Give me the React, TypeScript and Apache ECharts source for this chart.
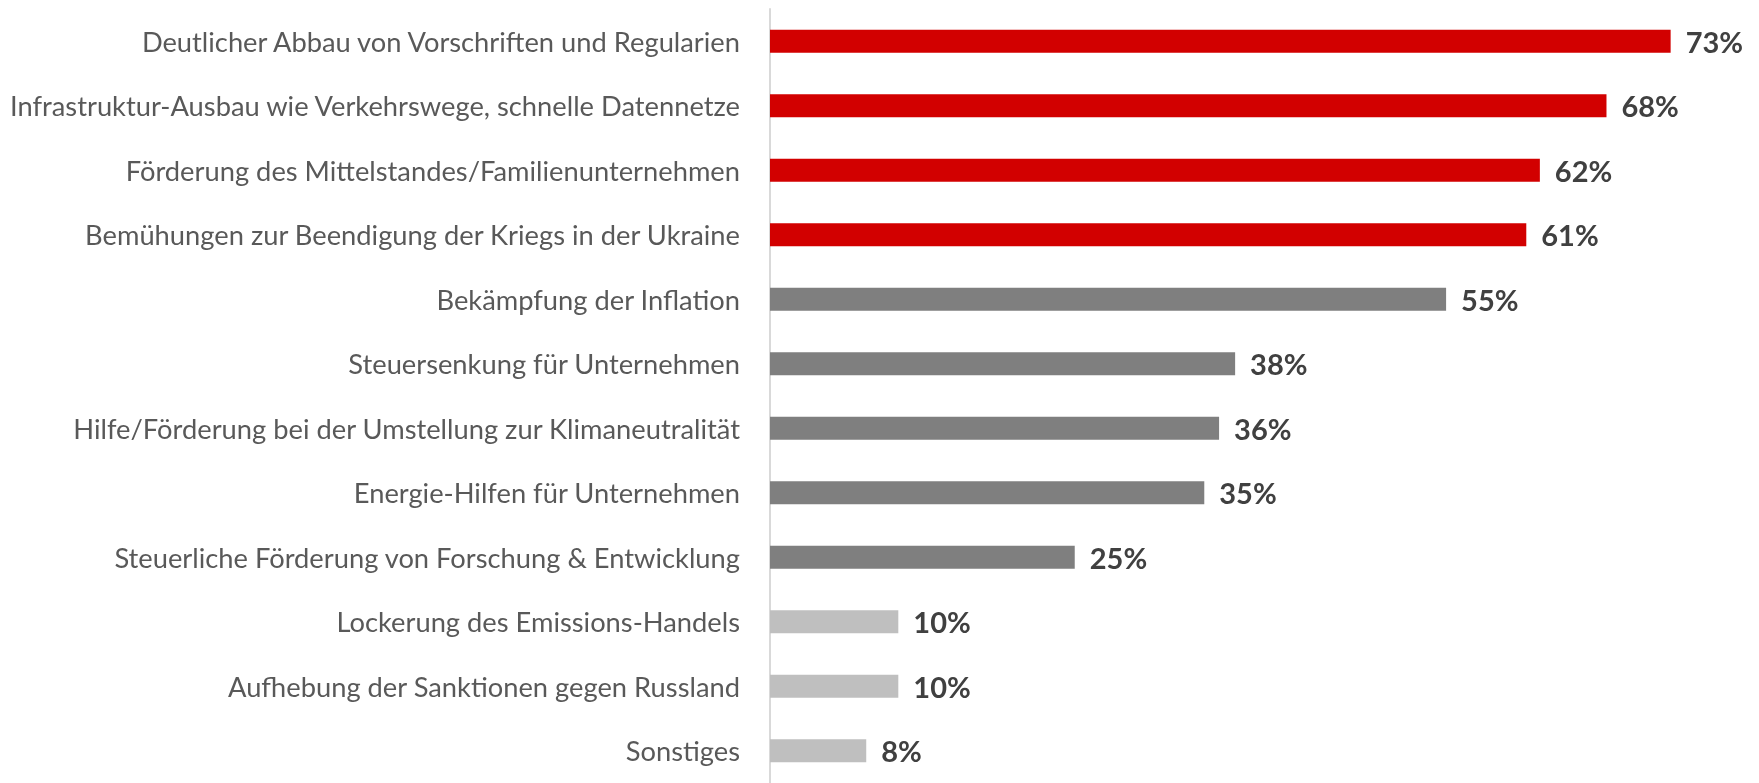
import React, { useEffect, useRef } from "react";
import * as echarts from "echarts";

const categories = [
  "Deutlicher Abbau von Vorschriften und Regularien",
  "Infrastruktur-Ausbau wie Verkehrswege, schnelle Datennetze",
  "Förderung des Mittelstandes/Familienunternehmen",
  "Bemühungen zur Beendigung der Kriegs in der Ukraine",
  "Bekämpfung der Inflation",
  "Steuersenkung für Unternehmen",
  "Hilfe/Förderung bei der Umstellung zur Klimaneutralität",
  "Energie-Hilfen für Unternehmen",
  "Steuerliche Förderung von Forschung & Entwicklung",
  "Lockerung des Emissions-Handels",
  "Aufhebung der Sanktionen gegen Russland",
  "Sonstiges",
];

// bar lengths (labels show rounded percentages)
const values = [73.0, 67.8, 62.4, 61.3, 54.8, 37.7, 36.4, 35.2, 24.7, 10.4, 10.4, 7.8];

const tiers = ["high", "high", "high", "high", "mid", "mid", "mid", "mid", "mid", "low", "low", "low"];

const tierColors: Record<string, string> = {
  high: "#D20000",
  mid: "#7F7F7F",
  low: "#BFBFBF",
};

export default function App() {
  const ref = useRef<HTMLDivElement>(null);

  useEffect(() => {
    if (!ref.current) return;
    const chart = echarts.init(ref.current, undefined, { renderer: "svg" });
    chart.setOption({
      animation: false,
      grid: { left: 770, right: 2, top: 9, height: 777, containLabel: false },
      xAxis: {
        type: "value",
        min: 0,
        max: 80,
        show: false,
      },
      yAxis: {
        type: "category",
        data: categories,
        inverse: true,
        axisTick: { show: false },
        axisLine: { show: true, lineStyle: { color: "#D9D9D9", width: 2 } },
        axisLabel: {
          color: "#595959",
          fontSize: 27.3,
          fontFamily: "Lato",
          margin: 30,
        },
      },
      series: [
        {
          type: "bar",
          barWidth: 23,
          data: values.map((v, i) => ({
            value: v,
            itemStyle: { color: tierColors[tiers[i]] },
          })),
          label: {
            show: true,
            position: "right",
            distance: 15,
            formatter: (p: any) => Math.round(p.value) + "%",
            color: "#404040",
            fontWeight: "bold",
            fontSize: 29,
            fontFamily: "Lato",
          },
        },
      ],
    });
    return () => chart.dispose();
  }, []);

  return (
    <div
      ref={ref}
      style={{ position: "fixed", left: 0, top: 0, width: 1759, height: 783 }}
    />
  );
}
